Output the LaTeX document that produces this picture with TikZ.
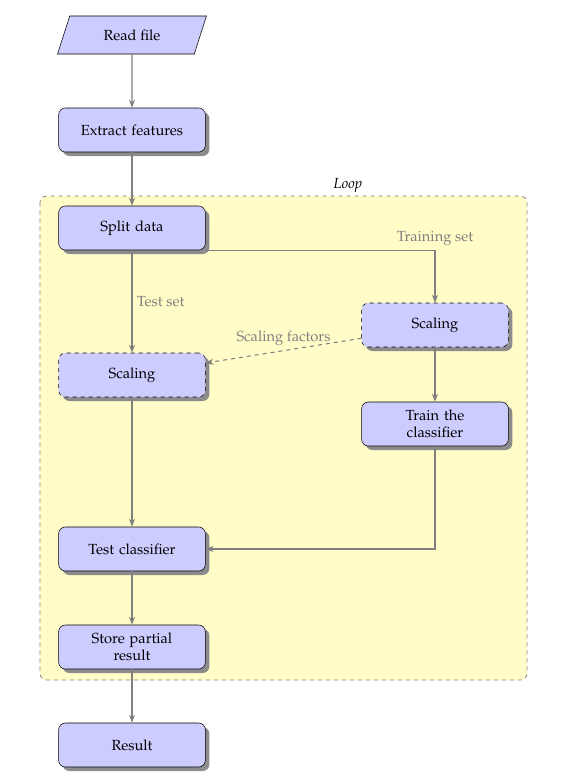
\documentclass[tikz,border=0pt]{standalone}
\usepackage[T1]{fontenc}
\usepackage{mathpazo}
\usetikzlibrary{shapes.geometric,shadows,arrows.meta}
\hyphenpenalty=10000

\tikzset{
  block/.style={draw, fill=blue!20, rounded corners=5pt, text width=80pt,
    align=center, inner xsep=15pt, minimum height=33pt,
    drop shadow={shadow xshift=3pt, shadow yshift=-3pt, fill=black!45, opacity=1}},
  dblock/.style={block, dashed},
  inout/.style={draw, fill=blue!20, trapezium, trapezium left angle=72,
    trapezium right angle=108, trapezium stretches=true,
    minimum width=112pt, minimum height=28.5pt},
  flow/.style={draw=gray, line width=0.8pt, -{Stealth[length=6pt,width=4.5pt]}},
  lbl/.style={text=gray}
}

\begin{document}
\begin{tikzpicture}[x=0.75pt, y=-0.75pt, font=\fontsize{11}{13}\selectfont]
    \useasboundingbox (0,0) rectangle (563,783);
    % loop area
    \coordinate(L0) at (40,196);
    \coordinate(L1) at (527,680);
    \draw[gray, dashed, rounded corners=5pt, fill=yellow!22, line width=0.6pt](L0) rectangle (L1);
    \node[font=\fontsize{11}{13}\selectfont\itshape] (loop) at (348,185) {Loop};

    % main column
    \node[inout] (read) at (132,35) {Read file};
    \node[block] (extract) at (132,130) {Extract features};
    \node[block] (split) at (132,228) {Split data};
    \node[dblock] (scaleL) at (132,375) {Scaling};
    \node[block] (test) at (132,549) {Test classifier};
    \node[block] (store) at (132,647) {Store partial result};
    \node[block] (result) at (132,745) {Result};

    % training branch
    \node[dblock] (scaleR) at (435,325) {Scaling};
    \node[block] (train) at (435,424) {Train the classifier};

    \draw[flow](read)--(extract);
    \draw[flow](extract)--(split);
    \draw[flow](split)--node[lbl, right, pos=0.5]{Test set}(scaleL);
    \draw[flow](split.south east)-|node[lbl, above, pos=0.5]{Training set}(scaleR);
    \draw[flow, dashed]([yshift=-10pt]scaleR.west)--node[lbl, above, pos=0.5]{Scaling factors}([yshift=9pt]scaleL.east);
    \draw[flow](scaleR)--(train);
    \draw[flow](train)|-(test);
    \draw[flow](scaleL)--(test);
    \draw[flow](test)--(store);
    \draw[flow](store)--(result);
  \end{tikzpicture}
\end{document}
